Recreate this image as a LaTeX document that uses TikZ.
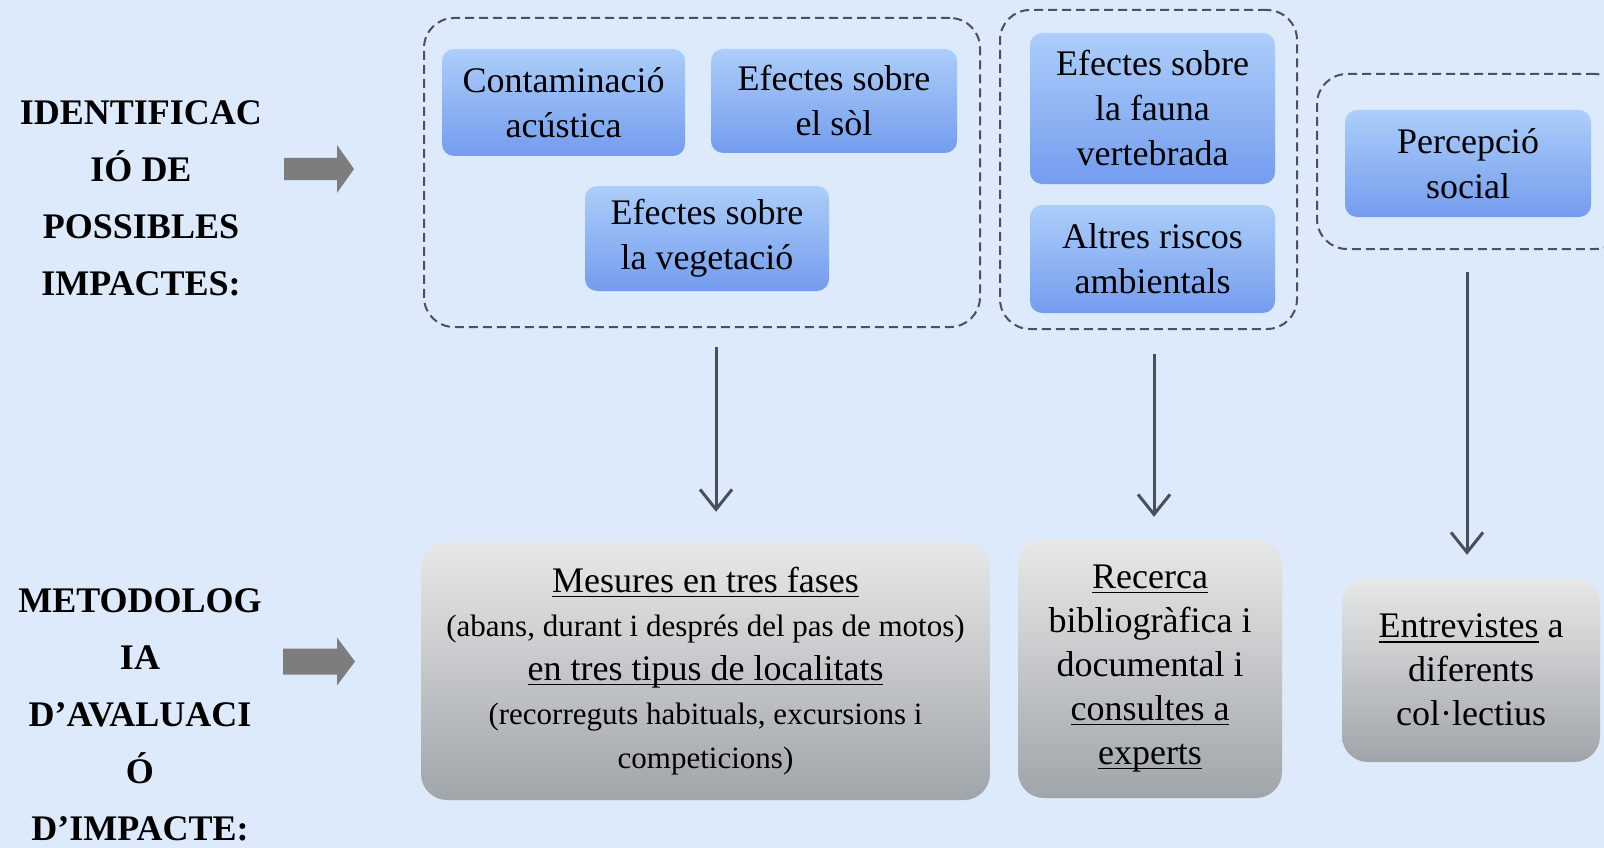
\documentclass[tikz,border=0pt]{standalone}
\usepackage{fontspec}
\setmainfont{Liberation Serif}
\usetikzlibrary{arrows.meta,calc}
\definecolor{bg}{RGB}{220,234,251}
\definecolor{bluetop}{RGB}{172,206,250}
\definecolor{bluebot}{RGB}{116,156,238}
\definecolor{graytop}{RGB}{232,232,232}
\definecolor{graybot}{RGB}{160,165,170}
\definecolor{dashcol}{RGB}{75,82,90}
\definecolor{arrcol}{RGB}{72,80,88}
\definecolor{blockarr}{RGB}{125,125,125}
\newcommand\myul[1]{\setbox0\hbox{#1}\rlap{\rule[-5pt]{\wd0}{1.8pt}}\box0\relax}
\tikzset{
  bluebox/.style={rounded corners=12pt, top color=bluetop, bottom color=bluebot,
    align=center, font=\fontsize{36}{45}\selectfont, inner sep=0pt},
  graybox/.style={rounded corners=26pt, top color=graytop, bottom color=graybot,
    align=center, font=\fontsize{36}{44}\selectfont, inner sep=0pt},
  group/.style={draw=dashcol, dash pattern=on 9pt off 5pt, line width=2pt,
    rounded corners=30pt, inner sep=0pt},
  down/.style={draw=arrcol, line width=3pt,
    -{Straight Barb[length=20pt,width=32pt,line width=3pt]}},
  rowlabel/.style={align=center, font=\bfseries\fontsize{36}{57}\selectfont, inner sep=0pt},
  blockarrow/.style={fill=blockarr}
}
\begin{document}
\begin{tikzpicture}[x=1pt,y=-1pt]
\useasboundingbox (0,0) rectangle (1604,848);
\clip (0,0) rectangle (1604,848);
\fill[bg] (0,0) rectangle (1604,848);

% row labels
\node[rowlabel] (lab1) at (141,198.5) {IDENTIFICAC\\IÓ DE\\POSSIBLES\\IMPACTES:};
\node[rowlabel] (lab2) at (140,715) {METODOLOG\\IA\\D’AVALUACI\\Ó\\D’IMPACTE:};

% block arrows
\fill[blockarrow, shift={(284,169)}] (0,-11) -- (53,-11) -- (53,-24) -- (70,0) -- (53,24) -- (53,11) -- (0,11) -- cycle;
\fill[blockarrow, shift={(283,661.5)}] (0,-13) -- (54,-13) -- (54,-24) -- (72,0) -- (54,24) -- (54,13) -- (0,13) -- cycle;

% groups
\node[group, minimum width=556pt, minimum height=309pt] (g1) at (702,172.5) {};
\node[group, minimum width=297pt, minimum height=319pt] (g2) at (1148.5,169.5) {};
\node[group, minimum width=308pt, minimum height=175pt] (g3) at (1471,161.5) {};

% blue boxes
\node[bluebox, minimum width=243pt, minimum height=107pt] (c1) at (563.5,102.5) {Contaminació\\acústica};
\node[bluebox, minimum width=246pt, minimum height=104pt] (c2) at (834,101) {Efectes sobre\\el sòl};
\node[bluebox, minimum width=244pt, minimum height=105pt] (c3) at (707,238.5) {Efectes sobre\\la vegetació};
\node[bluebox, minimum width=245pt, minimum height=151pt] (c4) at (1152.5,108.5) {Efectes sobre\\la fauna\\vertebrada};
\node[bluebox, minimum width=245pt, minimum height=108pt] (c5) at (1152.5,259) {Altres riscos\\ambientals};
\node[bluebox, minimum width=246pt, minimum height=107pt] (c6) at (1468,163.5) {Percepció\\social};

% gray boxes
\node[graybox, minimum width=569pt, minimum height=258pt] (m1) at (705.5,671)
  {\myul{Mesures en tres fases}\\
   {\fontsize{31}{44}\selectfont (abans, durant i després del pas de motos)}\\
   \myul{en tres tipus de localitats}\\
   {\fontsize{31}{42}\selectfont (recorreguts habituals, excursions i}\\
   {\fontsize{31}{38}\selectfont competicions)}};
\node[graybox, minimum width=264pt, minimum height=259pt] (r1) at (1150,668.5)
  {\myul{Recerca}\\bibliogràfica i\\documental i\\\myul{consultes a}\\\myul{experts}};
\node[graybox, minimum width=258pt, minimum height=184pt] (e1) at (1471,670)
  {\myul{Entrevistes} a\\diferents\\col·lectius};

% connectors
\draw[down, shorten <=19pt, shorten >=30pt] ([xshift=14pt]g1.south) -- ([xshift=10.5pt]m1.north);
\draw[down, shorten <=24pt, shorten >=22pt] ([xshift=5.5pt]g2.south) -- ([xshift=4pt]r1.north);
\draw[down, shorten <=22pt, shorten >=23pt] ([xshift=-4pt]g3.south) -- ([xshift=-4pt]e1.north);
\end{tikzpicture}
\end{document}
